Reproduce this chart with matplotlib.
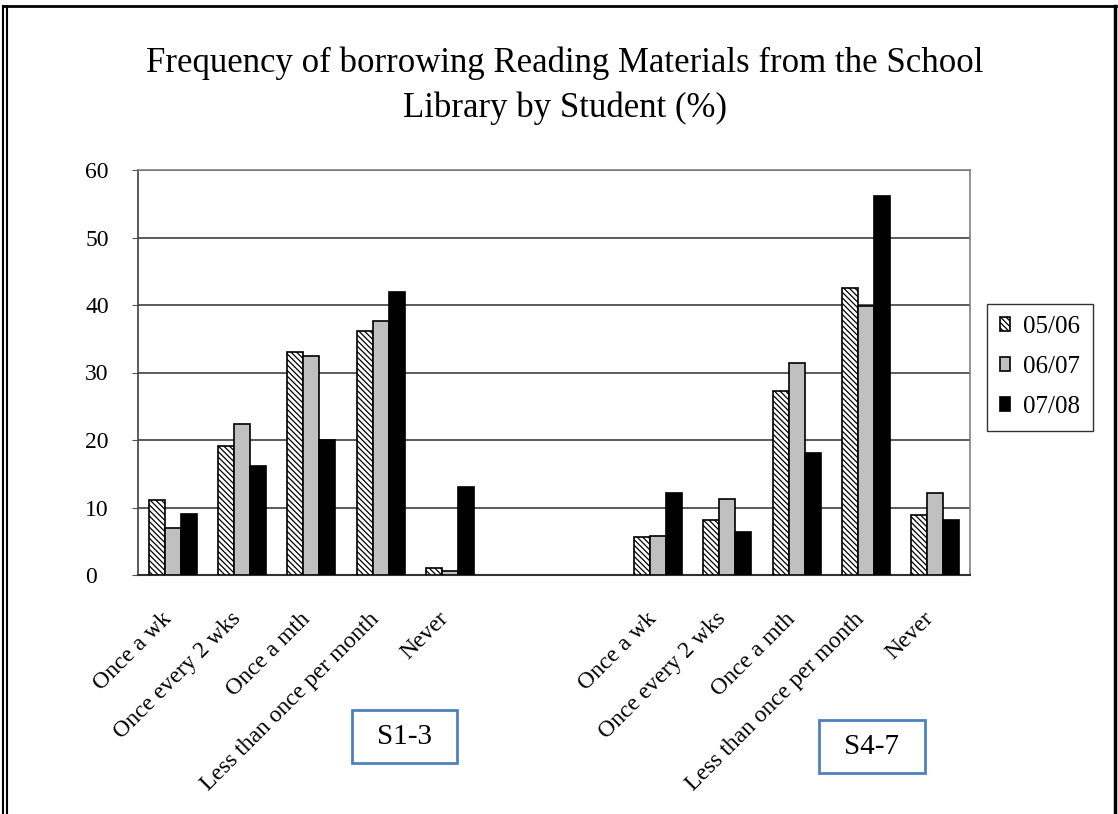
import matplotlib
matplotlib.use("Agg")
import matplotlib.pyplot as plt
from matplotlib.patches import Rectangle
from matplotlib.lines import Line2D
from matplotlib.transforms import ScaledTranslation
import numpy as np

# Data
categories = ["Once a wk", "Once every 2 wks", "Once a mth",
              "Less than once per month", "Never"]
groups = ["S1-3", "S4-7"]
years = ["05/06", "06/07", "07/08"]

s13_0506 = [11.1, 19.1, 33.0, 36.1, 1.1]
s13_0607 = [7.0, 22.4, 32.5, 37.6, 0.6]
s13_0708 = [9.0, 16.1, 20.0, 42.0, 13.0]

s47_0506 = [5.7, 8.1, 27.3, 42.5, 8.9]
s47_0607 = [5.8, 11.2, 31.4, 39.8, 12.1]
s47_0708 = [12.1, 6.3, 18.1, 56.1, 8.1]

plt.rcParams["font.family"] = ["Liberation Serif", "DejaVu Serif"]
plt.rcParams["hatch.linewidth"] = 0.9

W, H = 1118, 814


def fx(px):
    return px / W


def fy(py):
    return 1 - py / H


def build_chart() -> None:
    fig = plt.figure(figsize=(W / 100, H / 100), dpi=100)
    ax = fig.add_axes([fx(138), fy(575), 832 / W, 405 / H])

    # two empty slots between the S1-3 and S4-7 groups
    x = np.r_[np.arange(5), np.arange(7, 12)]
    series = [
        np.r_[s13_0506, s47_0506],
        np.r_[s13_0607, s47_0607],
        np.r_[s13_0708, s47_0708],
    ]
    width = 0.23
    styles = [
        dict(facecolor="white", hatch="\\\\\\\\\\\\"),
        dict(facecolor="#c0c0c0"),
        dict(facecolor="black"),
    ]
    for i, (vals, st) in enumerate(zip(series, styles)):
        ax.bar(x + (i - 1) * width, vals, width, edgecolor="black",
               linewidth=1.2, label=years[i], zorder=3, **st)

    ax.set_xlim(-0.5, 11.5)
    ax.set_ylim(0, 60)
    ax.set_yticks(range(0, 61, 10))
    ax.yaxis.grid(True, color="#404040", linewidth=1.2, zorder=0)
    ax.set_xticks(x)
    ax.set_xticklabels(categories * 2, rotation=45, ha="right",
                       rotation_mode="anchor", fontsize=17)
    ax.tick_params(axis="x", length=0, pad=24)
    shift = ScaledTranslation(-12 / 100, 0, fig.dpi_scale_trans)
    for lbl in ax.get_xticklabels():
        lbl.set_transform(lbl.get_transform() + shift)
    ax.tick_params(axis="y", labelsize=17, length=4, pad=34, color="#555555")
    for lbl in ax.get_yticklabels():
        lbl.set_horizontalalignment("left")
    for side in ["top", "right", "left"]:
        ax.spines[side].set_color("#808080")
        ax.spines[side].set_linewidth(1.2)
    ax.spines["left"].set_color("#404040")
    ax.spines["bottom"].set_color("#303030")
    ax.spines["bottom"].set_linewidth(1.5)

    fig.text(fx(565), fy(86),
             "Frequency of borrowing Reading Materials from the School\n"
             "Library by Student (%)",
             ha="center", va="center", fontsize=25, linespacing=1.45)

    leg = ax.legend(loc="center left", bbox_to_anchor=(fx(987), fy(367)),
                    bbox_transform=fig.transFigure, fontsize=18, frameon=True,
                    fancybox=False, edgecolor="black", handlelength=0.4,
                    handleheight=0.45, handletextpad=0.55, labelspacing=0.72,
                    borderpad=0.5, borderaxespad=0)
    leg.get_frame().set_linewidth(1.0)

    # group labels in blue-edged boxes
    for name, (x0, y0, x1, y1) in zip(groups, [(352, 710, 457, 763),
                                              (819, 720, 925, 773)]):
        fig.add_artist(Rectangle((fx(x0), fy(y1)), fx(x1) - fx(x0),
                                 fy(y0) - fy(y1), transform=fig.transFigure,
                                 facecolor="white", edgecolor="#4f81bd",
                                 linewidth=2))
        fig.text(fx((x0 + x1) / 2), fy((y0 + y1) / 2 + 1), name,
                 ha="center", va="center", fontsize=21)

    # frame around the figure (double line on the left)
    for xx in (3, 7):
        fig.add_artist(Line2D([fx(xx), fx(xx)], [0, fy(6)], color="black",
                              linewidth=1.5, transform=fig.transFigure))
    fig.add_artist(Line2D([fx(3), fx(1116)], [fy(6), fy(6)],
                          color="black", linewidth=2, transform=fig.transFigure))
    fig.add_artist(Line2D([fx(1115), fx(1115)], [0, fy(6)],
                          color="black", linewidth=2.5, transform=fig.transFigure))

    fig.savefig("out.png", dpi=100)


def main() -> None:
    build_chart()


if __name__ == "__main__":
    main()
